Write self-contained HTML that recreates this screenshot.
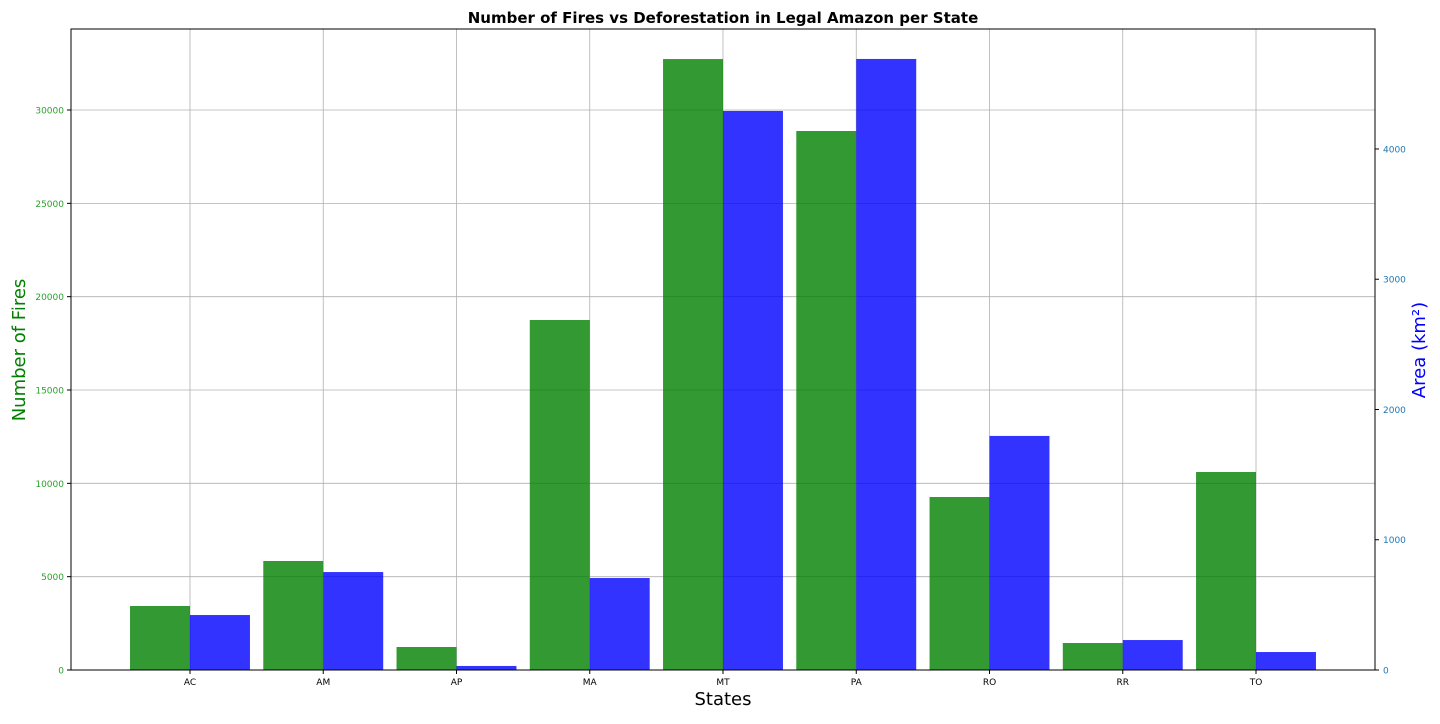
<!DOCTYPE html>
<html><head><meta charset="utf-8"><style>
body{margin:0;background:#fff;font-family:"DejaVu Sans","Liberation Sans",sans-serif;}
svg text{font-family:"DejaVu Sans","Liberation Sans",sans-serif;}
</style></head><body>
<svg id="chart" width="1440" height="720" viewBox="0 0 1440 720"></svg>
<script>
const categories=["AC","AM","AP","MA","MT","PA","RO","RR","TO"];
const fires=[3429,5840,1232,18750,32730,28875,9268,1446,10607];
const area=[422,752,31,706,4292,4691,1797,230,138];
const leftTicks=[0,5000,10000,15000,20000,25000,30000];
const rightTicks=[0,1000,2000,3000,4000];
const L=71,R=1375,T=29,B=670;
const ns="http://www.w3.org/2000/svg";
const svg=document.getElementById("chart");
function el(tag,attrs,text){const e=document.createElementNS(ns,tag);for(const k in attrs)e.setAttribute(k,attrs[k]);if(text!==undefined)e.textContent=text;svg.appendChild(e);return e;}
const xs=i=>L+(i+0.893)/(9.786)*(R-L);
const yl=v=>B-v/34340*(B-T);
const yr=v=>B-v/4921*(B-T);
const unit=(R-L)/9.786, bw=unit*0.45;
leftTicks.forEach(t=>{const g=el("line",{x1:L,x2:R,y1:yl(t),y2:yl(t),stroke:"#b0b0b0","stroke-width":0.8});

});
categories.forEach((c,i)=>{const g=el("line",{x1:xs(i),x2:xs(i),y1:T,y2:B,stroke:"#b0b0b0","stroke-width":0.8});

});
categories.forEach((c,i)=>{
const g=el("rect",{x:xs(i)-bw,y:yl(fires[i]),width:bw,height:B-yl(fires[i]),fill:"rgb(0,128,0)","fill-opacity":0.8});


const b=el("rect",{x:xs(i),y:yr(area[i]),width:bw,height:B-yr(area[i]),fill:"rgb(0,0,255)","fill-opacity":0.8});


const tk=el("line",{x1:xs(i),x2:xs(i),y1:B,y2:B+4,stroke:"#000"});


const t=el("text",{x:xs(i),y:B+15,"font-size":9,"text-anchor":"middle",fill:"#000"},c);


});
leftTicks.forEach(v=>{
const tk=el("line",{x1:L-4,x2:L,y1:yl(v),y2:yl(v),stroke:"#000"});


const t=el("text",{x:L-7,y:yl(v)+3.5,"font-size":9,"text-anchor":"end",fill:"#2ca02c"},v);


});
rightTicks.forEach(v=>{
const tk=el("line",{x1:R,x2:R+4,y1:yr(v),y2:yr(v),stroke:"#000"});


const t=el("text",{x:R+8,y:yr(v)+3.5,"font-size":9,"text-anchor":"start",fill:"#1f77b4"},v);


});
const fr=el("rect",{x:L,y:T,width:R-L,height:B-T,fill:"none",stroke:"#000","stroke-width":1});


const ti=el("text",{x:(L+R)/2,y:23,"font-size":15,"font-weight":"bold","text-anchor":"middle",fill:"#000"},"Number of Fires vs Deforestation in Legal Amazon per State");


const xl=el("text",{x:(L+R)/2,y:705,"font-size":18,"text-anchor":"middle",fill:"#000"},"States");


const ylT=el("text",{x:25,y:350,"font-size":18,"text-anchor":"middle",fill:"#008000",transform:"rotate(-90 25 350)"},"Number of Fires");


const yrT=el("text",{x:1425,y:350,"font-size":18,"text-anchor":"middle",fill:"#0000ff",transform:"rotate(-90 1425 350)"},"Area (km²)");


</script>
</body></html>
